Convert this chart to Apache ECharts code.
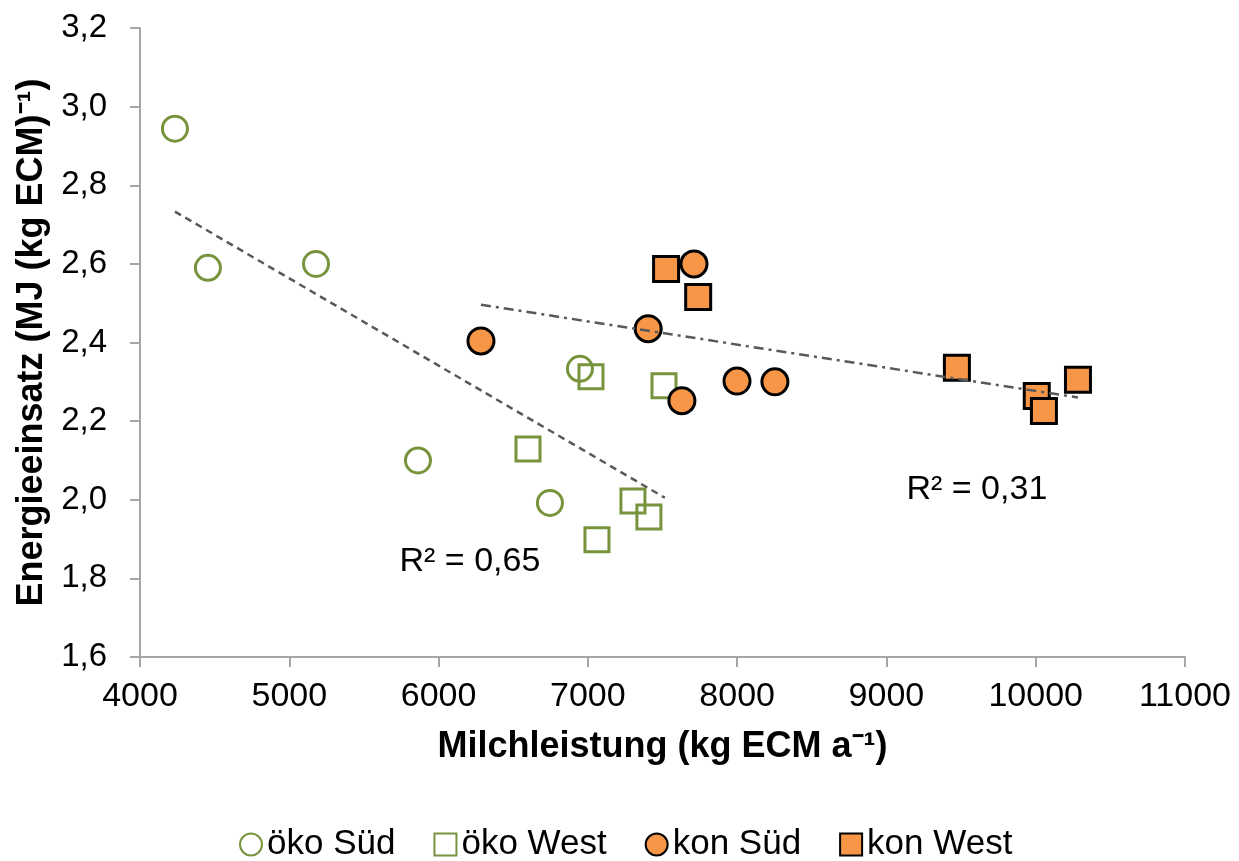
<!DOCTYPE html>
<html>
<head>
<meta charset="utf-8">
<script src="https://cdn.jsdelivr.net/npm/echarts@6/dist/echarts.min.js"></script>
<style>
  html, body { margin: 0; padding: 0; background: #fff; }
  #chart { width: 1239px; height: 861px; }
</style>
</head>
<body>
<div id="chart"></div>
<script>
  // Messwerte (x = Milchleistung, y = Energieeinsatz)
  var oekoSued = [[4234, 2.944], [4455, 2.59], [5179, 2.60], [5862, 2.10], [6746, 1.992], [6947, 2.333]];
  var oekoWest = [[7021, 2.313], [6599, 2.129], [7510, 2.29], [7302, 1.997], [7409, 1.956], [7061, 1.898]];
  var konSued = [[6284, 2.404], [7711, 2.60], [7404, 2.435], [7630, 2.252], [7999, 2.302], [8253, 2.30]];
  var konWest = [[7524, 2.587], [7739, 2.516], [9472, 2.336], [10007, 2.264], [10055, 2.226], [10283, 2.305]];

  // Trendlinien (Endpunkte)
  var trendOeko = [[4234, 2.733], [7516, 2.005]];
  var trendKon = [[6284, 2.496], [10283, 2.26]];

  // Bestimmtheitsmaße
  var r2Labels = [[6210, 1.842, 'R² = 0,65'], [9606, 2.025, 'R² = 0,31']];

  var xTicks = { min: 4000, max: 11000, step: 1000 };
  var yTicks = { min: 1.6, max: 3.2, step: 0.2 };

  var green = '#77933c';
  var orange = '#f79646';
  var font = '"Liberation Sans", Arial, sans-serif';

  var myChart = echarts.init(document.getElementById('chart'));
  myChart.setOption({
    animation: false,
    textStyle: { fontFamily: font },
    grid: { left: 140, right: 54, top: 28, bottom: 204 },
    legend: {
      data: ['öko Süd', 'öko West', 'kon Süd', 'kon West'],
      left: 234,
      top: 822,
      itemWidth: 22,
      itemHeight: 22,
      itemGap: 38,
      textStyle: { fontSize: 35, color: '#000', fontFamily: font }
    },
    xAxis: {
      type: 'value',
      min: xTicks.min,
      max: xTicks.max,
      interval: xTicks.step,
      name: 'Milchleistung (kg ECM a⁻¹)',
      nameLocation: 'middle',
      nameGap: 72,
      nameTextStyle: { fontSize: 36, fontWeight: 'bold', color: '#000', fontFamily: font },
      axisLine: { show: true, lineStyle: { color: '#a6a6a6', width: 2 } },
      axisTick: { show: true, length: 10, lineStyle: { color: '#a6a6a6', width: 2 } },
      axisLabel: {
        fontSize: 34,
        color: '#000',
        margin: 23,
        formatter: function (v) { return String(v); }
      },
      splitLine: { show: false }
    },
    yAxis: {
      type: 'value',
      min: yTicks.min,
      max: yTicks.max,
      interval: yTicks.step,
      name: 'Energieeinsatz (MJ (kg ECM)⁻¹)',
      nameLocation: 'middle',
      nameGap: 90,
      nameTextStyle: { fontSize: 36, fontWeight: 'bold', color: '#000', fontFamily: font },
      axisLine: { show: true, lineStyle: { color: '#a6a6a6', width: 2 } },
      axisTick: { show: true, length: 10, lineStyle: { color: '#a6a6a6', width: 2 } },
      axisLabel: {
        fontSize: 33,
        color: '#000',
        margin: 33,
        formatter: function (v) {
          return v.toFixed(1).replace('.', ',');
        }
      },
      splitLine: { show: false }
    },
    series: [
      {
        name: 'öko Süd',
        type: 'scatter',
        symbol: 'circle',
        symbolSize: 25,
        z: 2,
        itemStyle: { color: 'rgba(255,255,255,0)', borderColor: green, borderWidth: 3, opacity: 1 },
        data: oekoSued
      },
      {
        name: 'öko West',
        type: 'scatter',
        symbol: 'rect',
        symbolSize: 24,
        z: 3,
        itemStyle: { color: 'rgba(255,255,255,0)', borderColor: green, borderWidth: 3, opacity: 1 },
        data: oekoWest
      },
      {
        name: 'kon Süd',
        type: 'scatter',
        symbol: 'circle',
        symbolSize: 26,
        z: 5,
        itemStyle: { color: orange, borderColor: '#000', borderWidth: 3, opacity: 1 },
        data: konSued
      },
      {
        name: 'kon West',
        type: 'scatter',
        symbol: 'rect',
        symbolSize: 25,
        z: 4,
        itemStyle: { color: orange, borderColor: '#000', borderWidth: 3, opacity: 1 },
        data: konWest
      },
      {
        name: 'trend öko',
        type: 'line',
        symbol: 'none',
        z: 6,
        lineStyle: { color: '#595959', width: 2.5, type: [7, 5] },
        data: trendOeko
      },
      {
        name: 'trend kon',
        type: 'line',
        symbol: 'none',
        z: 6,
        lineStyle: { color: '#595959', width: 2.5, type: [10, 5, 3, 5] },
        data: trendKon
      },
      {
        name: 'r2',
        type: 'scatter',
        symbolSize: 0,
        silent: true,
        itemStyle: { opacity: 1 },
        label: {
          show: true,
          position: 'inside',
          fontSize: 34,
          color: '#000',
          fontFamily: font,
          formatter: function (p) { return p.value[2]; }
        },
        data: r2Labels
      }
    ]
  });
</script>
</body>
</html>
